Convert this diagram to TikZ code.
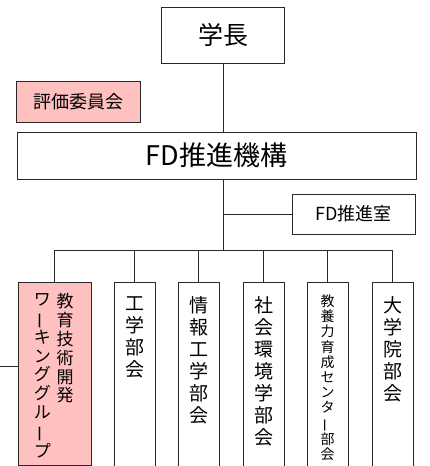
\documentclass[tikz,border=0pt]{standalone}
\usepackage{fontspec}
\usepackage{graphicx}
\setmainfont{Noto Sans CJK JP}
\newfontfamily\vjp{Noto Sans CJK JP}
\newcommand{\vbar}{\rotatebox[origin=c]{90}{ー}}
\definecolor{linec}{RGB}{40,40,40}
\definecolor{pinkc}{RGB}{255,192,192}
\begin{document}
\begin{tikzpicture}[x=1pt,y=-1pt,
  orgbox/.style={draw=linec, line width=1pt, rectangle, inner sep=0pt, fill=white},
  pinkbox/.style={orgbox, fill=pinkc},
  conn/.style={draw=linec, line width=1pt},
  vtext/.style={align=center, anchor=north, inner sep=0pt},
  vbig/.style={vtext, font=\vjp\fontsize{19}{22}\selectfont},
  vmid/.style={vtext, font=\vjp\fontsize{17}{18.8}\selectfont},
  vsmall/.style={vtext, font=\vjp\fontsize{14}{15.2}\selectfont}]
\useasboundingbox (0,0) rectangle (429,466);

% top boxes
\node[orgbox, minimum width=123, minimum height=56, font=\fontsize{25}{25}\selectfont] (gakucho) at (223,35) {学長};
\node[pinkbox, minimum width=124, minimum height=41, font=\fontsize{18}{18}\selectfont] (hyoka) at (78,101.5) {評価委員会};
\node[orgbox, minimum width=399, minimum height=47, font=\fontsize{27}{27}\selectfont] (fd) at (216.5,155.5) {FD推進機構};
\node[orgbox, minimum width=123, minimum height=40, font=\fontsize{18}{18}\selectfont] (fdshitsu) at (353.5,214) {FD推進室};

% bottom boxes
\node[pinkbox, minimum width=73, minimum height=183] (wg) at (54.5,373.5) {};
\node[orgbox, minimum width=41, minimum height=188] (kogaku) at (134.5,376) {};
\node[orgbox, minimum width=41, minimum height=188] (joho) at (198.5,376) {};
\node[orgbox, minimum width=41, minimum height=188] (shakai) at (263.5,376) {};
\node[orgbox, minimum width=41, minimum height=188] (kyoyo) at (327.5,376) {};
\node[orgbox, minimum width=41, minimum height=188] (dgin) at (392.5,376) {};

% vertical texts
\node[vmid] (wg1) at (65,293.5) {教\\育\\技\\術\\開\\発};
\node[vmid] (wg2) at (42.5,293.5) {ワ\\\vbar\\キ\\ン\\グ\\グ\\ル\\\vbar\\プ};
\node[vbig] (t1) at (134.5,296) {工\\学\\部\\会};
\node[vbig] (t2) at (198.5,296) {情\\報\\工\\学\\部\\会};
\node[vbig] (t3) at (263.5,296) {社\\会\\環\\境\\学\\部\\会};
\node[vsmall] (t4) at (327.5,294.5) {教\\養\\力\\育\\成\\セ\\ン\\タ\\\vbar\\部\\会};
\node[vbig] (t5) at (392.5,296) {大\\学\\院\\部\\会};

% connectors
\coordinate (j1) at (223,214);
\coordinate (bus) at (223,250);
\coordinate (lft) at (0,366);
\draw[conn] (gakucho.south) -- (gakucho.south |- fd.north);
\draw[conn] (fd.south -| j1) -- (bus);
\draw[conn] (j1) -- (fdshitsu.west |- j1);
\draw[conn] (wg.north |- bus) -- (dgin.north |- bus);
\foreach \n in {wg,kogaku,joho,shakai,kyoyo,dgin}
  \draw[conn] (\n.north |- bus) -- (\n.north);
\draw[conn] (lft) -- (lft -| wg.west);
\end{tikzpicture}
\end{document}
